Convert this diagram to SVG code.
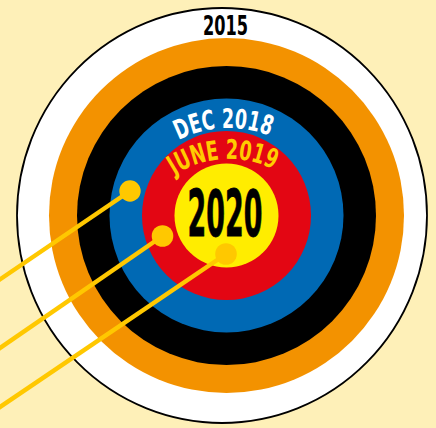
<svg xmlns="http://www.w3.org/2000/svg" xmlns:xlink="http://www.w3.org/1999/xlink" width="436" height="428" viewBox="0 0 436 428">
  <style>
    .lbl { font-family: "Liberation Sans Narrow", "DejaVu Sans Condensed", "Liberation Sans", sans-serif; font-weight: bold; text-anchor: middle; }
    .shaft { stroke: #FFC800; stroke-width: 4.5; fill: none; }
    .tip { fill: #FFC800; }
  </style>
  <defs>
    <path id="arcDec" d="M 119 238 A 110 110 0 0 1 339 238"/>
    <path id="arcJune" d="M 129 259 A 100 100 0 0 1 329 259"/>
  </defs>
  <rect x="0" y="0" width="436" height="428" fill="#FEF0B8"/>
  <g id="ring-2015">
    <ellipse cx="222" cy="215.5" rx="205" ry="207.5" fill="#FFFFFF" stroke="#000000" stroke-width="1.8"/>
    <text class="lbl" x="225.5" y="35" font-size="27" fill="#000000" textLength="45" lengthAdjust="spacingAndGlyphs">2015</text>
  </g>
  <g id="ring-orange">
    <circle cx="226.5" cy="215.5" r="177.5" fill="#F39200"/>
  </g>
  <g id="ring-black">
    <circle cx="226.5" cy="215.5" r="149.5" fill="#000000"/>
  </g>
  <g id="ring-dec2018">
    <circle cx="226.5" cy="215.5" r="117" fill="#0069B4"/>
  </g>
  <g id="ring-june2019">
    <circle cx="226.5" cy="215.5" r="84.5" fill="#E30613"/>
  </g>
  <g id="ring-2020">
    <circle cx="226.5" cy="215.5" r="52" fill="#FFED00"/>
    <text class="lbl" x="225" y="236" font-size="64" fill="#000000" stroke="#000000" stroke-width="0.8" textLength="75" lengthAdjust="spacingAndGlyphs">2020</text>
  </g>
  <g id="label-dec2018">
    <text class="lbl" font-size="27" fill="#FFFFFF" textLength="94" lengthAdjust="spacingAndGlyphs"><textPath xlink:href="#arcDec" href="#arcDec" startOffset="167.3">DEC 2018</textPath></text>
  </g>
  <g id="label-june2019">
    <text class="lbl" font-size="27" fill="#FFCC00" textLength="104" lengthAdjust="spacingAndGlyphs"><textPath xlink:href="#arcJune" href="#arcJune" startOffset="151.1">JUNE 2019</textPath></text>
  </g>
  <g id="arrows">
    <line class="shaft" x1="130" y1="191" x2="-10" y2="286.2"/>
    <line class="shaft" x1="162.5" y1="236" x2="-10" y2="355"/>
    <line class="shaft" x1="226" y1="254" x2="-10" y2="413.7"/>
    <circle class="tip" cx="130" cy="191" r="10.7"/>
    <circle class="tip" cx="162.5" cy="236" r="10.8"/>
    <circle class="tip" cx="226" cy="254" r="10.8"/>
  </g>
</svg>
